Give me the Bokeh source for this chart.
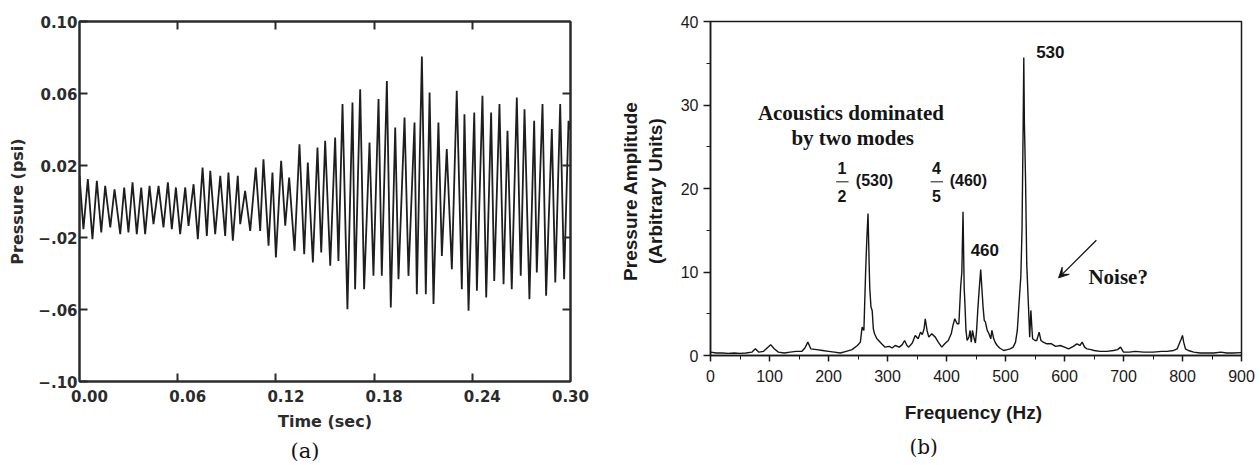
from bokeh.plotting import figure
from bokeh.layouts import row
from bokeh.models import (LinearAxis, Range1d, FixedTicker, CustomJSTickFormatter,
                          Label, Arrow, VeeHead, Title)
from bokeh.embed import file_html
from bokeh.resources import INLINE

# ---------------- data: panel (a) pressure trace ----------------
time_s = [0.0000, 0.0024, 0.0051, 0.0079, 0.0106, 0.0133, 0.0157, 0.0188, 0.0214, 0.0249,
          0.0273, 0.0299, 0.0324, 0.0350, 0.0377, 0.0401, 0.0428, 0.0452, 0.0483, 0.0513,
          0.0540, 0.0564, 0.0589, 0.0615, 0.0646, 0.0666, 0.0697, 0.0723, 0.0752, 0.0778,
          0.0799, 0.0829, 0.0860, 0.0890, 0.0910, 0.0937, 0.0967, 0.0982, 0.1012, 0.1043,
          0.1077, 0.1104, 0.1124, 0.1155, 0.1179, 0.1200, 0.1232, 0.1257, 0.1281, 0.1314,
          0.1344, 0.1373, 0.1395, 0.1426, 0.1454, 0.1477, 0.1501, 0.1532, 0.1562, 0.1582,
          0.1607, 0.1637, 0.1668, 0.1684, 0.1715, 0.1739, 0.1772, 0.1796, 0.1827, 0.1847,
          0.1878, 0.1902, 0.1929, 0.1949, 0.1986, 0.2010, 0.2047, 0.2061, 0.2092, 0.2116,
          0.2139, 0.2163, 0.2193, 0.2214, 0.2244, 0.2275, 0.2305, 0.2336, 0.2352, 0.2377,
          0.2412, 0.2428, 0.2462, 0.2485, 0.2515, 0.2534, 0.2566, 0.2591, 0.2615, 0.2641,
          0.2672, 0.2696, 0.2719, 0.2749, 0.2778, 0.2794, 0.2829, 0.2851, 0.2886, 0.2907,
          0.2937, 0.2961, 0.2988, 0.3000]
pressure_psi = [0.0143, -0.0154, 0.0124, -0.0209, 0.0115, -0.0172, 0.0087, -0.0144, 0.0068, -0.0181,
                0.0078, -0.0172, 0.0106, -0.0181, 0.0078, -0.0181, 0.0087, -0.0126, 0.0087, -0.0144,
                0.0106, -0.0154, 0.0078, -0.0181, 0.0078, -0.0135, 0.0096, -0.0209, 0.0189, -0.0191,
                0.0170, -0.0181, 0.0143, -0.0191, 0.0161, -0.0218, 0.0143, -0.0126, 0.0059, -0.0163,
                0.0189, -0.0163, 0.0235, -0.0246, 0.0161, -0.0311, 0.0226, -0.0135, 0.0133, -0.0274,
                0.0318, -0.0293, 0.0217, -0.0339, 0.0300, -0.0283, 0.0337, -0.0357, 0.0356, -0.0330,
                0.0541, -0.0598, 0.0550, -0.0487, 0.0624, -0.0487, 0.0328, -0.0413, 0.0569, -0.0413,
                0.0670, -0.0589, 0.0411, -0.0432, 0.0467, -0.0413, 0.0439, -0.0515, 0.0806, -0.0515,
                0.0606, -0.0570, 0.0439, -0.0302, 0.0291, -0.0376, 0.0615, -0.0487, 0.0485, -0.0607,
                0.0494, -0.0496, 0.0587, -0.0533, 0.0494, -0.0441, 0.0541, -0.0459, 0.0393, -0.0487,
                0.0578, -0.0413, 0.0513, -0.0543, 0.0448, -0.0394, 0.0541, -0.0524, 0.0402, -0.0450,
                0.0541, -0.0432, 0.0448, 0.0400]

a_xticks = [0.0, 0.06, 0.12, 0.18, 0.24, 0.30]
a_xlabels = ["0.00", "0.06", "0.12", "0.18", "0.24", "0.30"]
a_yticks = [0.10, 0.06, 0.02, -0.02, -0.06, -0.10]
a_ylabels = ["0.10", "0.06", "0.02", "\u2212.02", "\u2212.06", "\u2212.10"]
a_inner_xticks = [0.06, 0.12, 0.18, 0.24]
a_inner_yticks = [0.06, 0.02, -0.02, -0.06]

# ---------------- data: panel (b) spectrum ----------------
freq_hz = [0, 10, 20, 30, 40, 50, 60, 70, 76, 82, 90, 96, 102, 108, 115, 125, 135, 145, 155, 160,
           165, 170, 180, 190, 200, 210, 220, 230, 240, 249, 254, 257, 260, 263, 265, 267, 269, 270,
           272, 274, 276, 278, 282, 285, 290, 296, 303, 308, 313, 320, 325, 329, 333, 336, 342, 347,
           352, 356, 359, 362, 364, 367, 370, 375, 381, 386, 392, 397, 403, 408, 411, 414, 418, 421,
           424, 426, 428, 430, 431, 433, 435, 438, 440, 442, 444, 447, 449, 451, 453, 455, 458, 460,
           462, 464, 466, 469, 472, 475, 477, 480, 483, 486, 490, 497, 503, 508, 513, 517, 520, 524,
           526, 528, 530, 531, 532, 534, 536, 538, 539, 541, 543, 545, 546, 550, 553, 557, 560, 564,
           570, 578, 585, 593, 600, 607, 615, 621, 626, 630, 634, 638, 645, 650, 660, 672, 683, 690,
           695, 700, 710, 720, 734, 750, 765, 774, 785, 791, 795, 798, 800, 802, 805, 810, 819, 830,
           840, 853, 865, 875, 885, 900]
amplitude = [0.4, 0.3, 0.3, 0.25, 0.3, 0.25, 0.3, 0.4, 0.8, 0.4, 0.5, 0.9, 1.3, 0.8, 0.4, 0.3, 0.4, 0.5, 0.5, 0.9,
             1.6, 0.8, 0.7, 0.6, 0.5, 0.4, 0.3, 0.5, 0.7, 1.2, 1.6, 3.4, 3.0, 10.2, 14.0, 17.0, 10.6, 8.0,
             5.8, 5.4, 3.2, 2.6, 2.0, 1.8, 1.4, 1.0, 1.1, 0.9, 1.2, 1.0, 1.3, 1.8, 1.2, 1.0, 1.5, 2.4,
             2.0, 2.8, 2.5, 3.2, 4.4, 3.0, 2.2, 2.6, 2.2, 1.6, 1.0, 1.4, 1.8, 2.6, 3.6, 4.4, 3.8, 3.8,
             8.2, 10.0, 17.2, 8.0, 6.6, 3.0, 1.8, 2.2, 3.0, 1.6, 3.0, 2.0, 1.5, 3.0, 5.4, 7.5, 10.3, 8.0,
             5.8, 4.2, 4.0, 3.0, 2.6, 2.0, 3.0, 2.0, 1.5, 1.2, 0.9, 0.6, 0.7, 0.8, 1.0, 1.6, 3.0, 7.4,
             9.5, 15.0, 28.0, 35.7, 28.0, 21.0, 11.0, 7.5, 5.8, 2.2, 5.4, 3.0, 2.0, 1.8, 1.8, 2.8, 1.8, 1.6,
             1.4, 1.4, 1.1, 1.2, 1.0, 0.8, 1.1, 1.4, 1.2, 1.6, 1.0, 0.8, 0.7, 0.6, 0.5, 0.5, 0.6, 0.7,
             1.0, 0.4, 0.4, 0.5, 0.4, 0.4, 0.5, 0.5, 0.6, 0.8, 1.5, 2.0, 2.4, 1.6, 0.8, 0.6, 0.4, 0.3,
             0.3, 0.3, 0.4, 0.3, 0.3, 0.35]

b_xticks = [0, 100, 200, 300, 400, 500, 600, 700, 800, 900]
b_xminor = [50, 150, 250, 350, 450, 550, 650, 750, 850]
b_yticks = [0, 10, 20, 30, 40]
b_yminor = [5, 15, 25, 35]

LABEL_JS = """
let k = 0;
for (let i = 0; i < vals.length; i++) {
  if (Math.abs(vals[i] - tick) < Math.abs(vals[k] - tick)) k = i;
}
return labs[k];
"""
EMPTY_JS = "return '';"

AXC = "#2b2b2b"
A_FONT = "DejaVu Sans"

# ================= panel (a) =================
pa = figure(frame_width=491, frame_height=360, x_range=Range1d(0, 0.30), y_range=Range1d(-0.10, 0.10),
            min_border_left=79, min_border_right=40, min_border_top=19, min_border_bottom=60,
            output_backend="svg", toolbar_location=None)
pa.grid.visible = False
pa.outline_line_color = AXC
pa.outline_line_width = 2
pa.line(time_s, pressure_psi, line_color="#1e1e1e", line_width=1.8)

ya = pa.yaxis[0]
ya.ticker = FixedTicker(ticks=a_yticks)
ya.formatter = CustomJSTickFormatter(args=dict(vals=a_yticks, labs=a_ylabels), code=LABEL_JS)
ya.major_tick_in = 8
ya.major_tick_out = 0
ya.minor_tick_line_color = None
ya.axis_line_width = 2
ya.axis_line_color = AXC
ya.major_tick_line_width = 2
ya.major_tick_line_color = AXC
ya.major_label_standoff = 2
ya.major_label_text_font = A_FONT
ya.major_label_text_font_style = "bold"
ya.major_label_text_font_size = "15px"
ya.major_label_text_color = AXC
ya.axis_label = "Pressure (psi)"
ya.axis_label_text_font = A_FONT
ya.axis_label_text_font_style = "bold"
ya.axis_label_text_font_size = "16px"
ya.axis_label_text_color = AXC
ya.axis_label_standoff = 8

# bottom axis: inward ticks only
xa = pa.xaxis[0]
xa.ticker = FixedTicker(ticks=a_inner_xticks)
xa.formatter = CustomJSTickFormatter(code=EMPTY_JS)
xa.major_tick_in = 8
xa.major_tick_out = 0
xa.minor_tick_line_color = None
xa.axis_line_width = 2
xa.axis_line_color = AXC
xa.major_tick_line_width = 2
xa.major_tick_line_color = AXC
xa.major_label_standoff = 0
xa.major_label_text_font_size = "1px"

# time tick labels: in the original they sit ~10 px right of their ticks
shift = 10 * 0.30 / 491
pa.extra_x_ranges = {"lab": Range1d(0 - shift, 0.30 - shift)}
lab_pos = [v for v in a_xticks[:-1]] + [a_xticks[-1] - shift - 1e-9]
xl = LinearAxis(x_range_name="lab", ticker=FixedTicker(ticks=lab_pos),
                formatter=CustomJSTickFormatter(args=dict(vals=lab_pos, labs=a_xlabels), code=LABEL_JS),
                axis_line_color=None, major_tick_line_color=None, minor_tick_line_color=None,
                major_label_standoff=2, major_label_text_font=A_FONT, major_label_text_font_style="bold",
                major_label_text_font_size="15px", major_label_text_color=AXC,
                axis_label="Time (sec)", axis_label_text_font=A_FONT, axis_label_text_font_style="bold",
                axis_label_text_font_size="16px", axis_label_text_color=AXC, axis_label_standoff=7)
pa.add_layout(xl, "below")

for loc, tk in (("above", a_inner_xticks), ("right", a_inner_yticks)):
    ax = LinearAxis(ticker=FixedTicker(ticks=tk), formatter=CustomJSTickFormatter(code=EMPTY_JS),
                    major_tick_in=8, major_tick_out=0, minor_tick_line_color=None,
                    axis_line_width=2, axis_line_color=AXC, major_tick_line_width=2,
                    major_tick_line_color=AXC, major_label_standoff=0, major_label_text_font_size="1px")
    pa.add_layout(ax, loc)

pa.add_layout(Title(text="(a)", align="left", offset=211, text_font="DejaVu Serif",
                    text_font_style="normal", text_font_size="21px", text_color="#111", standoff=7), "below")

# ================= panel (b) =================
B_FONT = "Liberation Sans"
pb = figure(frame_width=531, frame_height=334, x_range=Range1d(0, 900), y_range=Range1d(0, 40),
            min_border_left=100, min_border_right=15, min_border_top=21, min_border_bottom=60,
            output_backend="svg", toolbar_location=None)
pb.grid.visible = False
pb.outline_line_color = "#1a1a1a"
pb.outline_line_width = 1.5
pb.line(freq_hz, amplitude, line_color="#151515", line_width=1.4)

xb = pb.xaxis[0]
xb.ticker = FixedTicker(ticks=b_xticks, minor_ticks=b_xminor)
xb.major_tick_out = 6
xb.major_tick_in = 0
xb.minor_tick_out = 4
xb.minor_tick_in = 0
xb.axis_line_width = 1.5
xb.axis_line_color = "#1a1a1a"
xb.major_tick_line_color = "#1a1a1a"
xb.minor_tick_line_color = "#1a1a1a"
xb.major_tick_line_width = 1.5
xb.major_label_standoff = 8
xb.major_label_text_font = B_FONT
xb.major_label_text_font_size = "16px"
xb.major_label_text_color = "#1a1a1a"
xb.axis_label = "Frequency  (Hz)"
xb.axis_label_text_font = B_FONT
xb.axis_label_text_font_style = "bold"
xb.axis_label_text_font_size = "19px"
xb.axis_label_text_color = "#1a1a1a"
xb.axis_label_standoff = 17

yb = pb.yaxis[0]
yb.ticker = FixedTicker(ticks=b_yticks, minor_ticks=b_yminor)
yb.major_tick_out = 7
yb.major_tick_in = 0
yb.minor_tick_out = 4
yb.minor_tick_in = 0
yb.axis_line_width = 1.5
yb.axis_line_color = "#1a1a1a"
yb.major_tick_line_color = "#1a1a1a"
yb.minor_tick_line_color = "#1a1a1a"
yb.major_tick_line_width = 1.5
yb.major_label_standoff = 5
yb.major_label_text_font = B_FONT
yb.major_label_text_font_size = "16px"
yb.major_label_text_color = "#1a1a1a"
yb.axis_label = "Pressure  Amplitude\n(Arbitrary  Units)"
yb.axis_label_text_font = B_FONT
yb.axis_label_text_font_style = "bold"
yb.axis_label_text_font_size = "19px"
yb.axis_label_text_color = "#1a1a1a"
yb.axis_label_text_line_height = 1.2
yb.axis_label_standoff = 12


def lab(x, y, text, font, size):
    pb.add_layout(Label(x=x, y=y, text=text, text_align="center", text_baseline="middle",
                        text_font=font, text_font_size=size, text_font_style="bold",
                        text_color="#151515"))


SERIF = "Liberation Serif"
lab(238, 29.0, "Acoustics dominated", SERIF, "21px")
lab(241, 26.0, "by two modes", SERIF, "21px")
lab(576, 36.3, "530", B_FONT, "17px")
lab(465, 12.6, "460", B_FONT, "17px")
lab(691, 9.4, "Noise?", SERIF, "21px")
# 1/2 (530)
lab(223, 22.5, "1", B_FONT, "16px")
lab(223, 19.1, "2", B_FONT, "16px")
lab(278, 20.9, "(530)", B_FONT, "16px")
# 4/5 (460)
lab(383, 22.5, "4", B_FONT, "16px")
lab(383, 19.1, "5", B_FONT, "16px")
lab(437, 20.9, "(460)", B_FONT, "16px")
for x0, x1 in ((213, 234), (373, 394)):
    pb.add_layout(Arrow(x_start=x0, y_start=20.8, x_end=x1, y_end=20.8, end=None,
                        line_color="#151515", line_width=1.0))

pb.add_layout(Arrow(x_start=654, y_start=13.8, x_end=590, y_end=9.3,
                    end=VeeHead(size=10, line_color="#151515", fill_color="#151515", line_width=1),
                    line_color="#151515", line_width=1.3))

pb.add_layout(Title(text="(b)", align="left", offset=199, text_font="DejaVu Serif",
                    text_font_style="normal", text_font_size="20px", text_color="#111", standoff=15), "below")

layout = row(pa, pb)
open("out.html", "w").write(file_html(layout, INLINE))
